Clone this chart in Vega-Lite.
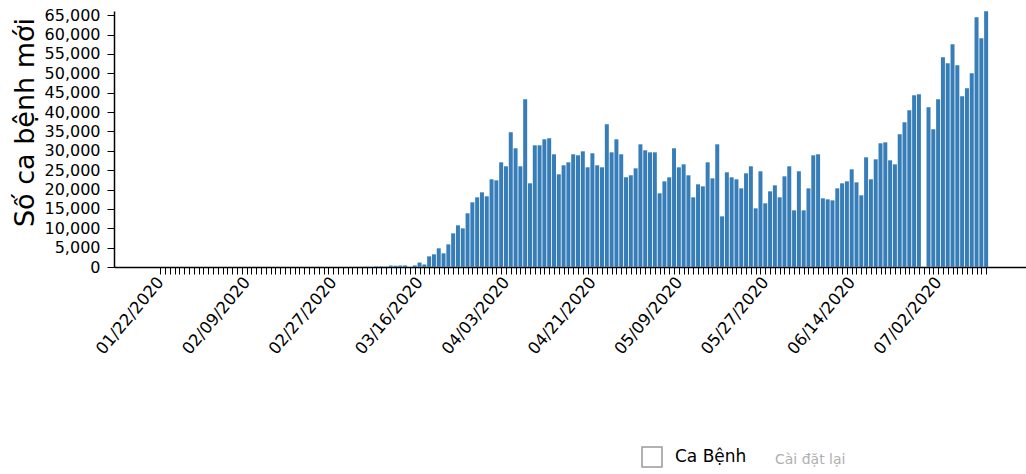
{
  "$schema": "https://vega.github.io/schema/vega-lite/v6.json",
  "width": 912,
  "height": 256,
  "autosize": {"type": "none"},
  "padding": {"left": 114, "top": 11, "right": 0, "bottom": 207},
  "background": "white",
  "config": {"view": {"stroke": null}, "font": "DejaVu Sans"},
  "data": {"values": [
    {"date":"2020-01-22","cases":1},{"date":"2020-01-23","cases":0},{"date":"2020-01-24","cases":1},{"date":"2020-01-25","cases":0},
    {"date":"2020-01-26","cases":3},{"date":"2020-01-27","cases":0},{"date":"2020-01-28","cases":0},{"date":"2020-01-29","cases":0},
    {"date":"2020-01-30","cases":0},{"date":"2020-01-31","cases":2},{"date":"2020-02-01","cases":1},{"date":"2020-02-02","cases":3},
    {"date":"2020-02-03","cases":0},{"date":"2020-02-04","cases":0},{"date":"2020-02-05","cases":1},{"date":"2020-02-06","cases":0},
    {"date":"2020-02-07","cases":0},{"date":"2020-02-08","cases":0},{"date":"2020-02-09","cases":0},{"date":"2020-02-10","cases":0},
    {"date":"2020-02-11","cases":1},{"date":"2020-02-12","cases":0},{"date":"2020-02-13","cases":1},{"date":"2020-02-14","cases":0},
    {"date":"2020-02-15","cases":0},{"date":"2020-02-16","cases":0},{"date":"2020-02-17","cases":0},{"date":"2020-02-18","cases":0},
    {"date":"2020-02-19","cases":0},{"date":"2020-02-20","cases":0},{"date":"2020-02-21","cases":2},{"date":"2020-02-22","cases":0},
    {"date":"2020-02-23","cases":0},{"date":"2020-02-24","cases":36},{"date":"2020-02-25","cases":0},{"date":"2020-02-26","cases":6},
    {"date":"2020-02-27","cases":1},{"date":"2020-02-28","cases":3},{"date":"2020-02-29","cases":8},{"date":"2020-03-01","cases":7},
    {"date":"2020-03-02","cases":23},{"date":"2020-03-03","cases":20},{"date":"2020-03-04","cases":31},{"date":"2020-03-05","cases":68},
    {"date":"2020-03-06","cases":45},{"date":"2020-03-07","cases":140},{"date":"2020-03-08","cases":116},{"date":"2020-03-09","cases":65},
    {"date":"2020-03-10","cases":376},{"date":"2020-03-11","cases":322},{"date":"2020-03-12","cases":382},{"date":"2020-03-13","cases":400},
    {"date":"2020-03-14","cases":0},{"date":"2020-03-15","cases":400},{"date":"2020-03-16","cases":1150},{"date":"2020-03-17","cases":650},
    {"date":"2020-03-18","cases":2750},{"date":"2020-03-19","cases":3270},{"date":"2020-03-20","cases":4820},{"date":"2020-03-21","cases":3530},
    {"date":"2020-03-22","cases":5850},{"date":"2020-03-23","cases":8690},{"date":"2020-03-24","cases":10760},{"date":"2020-03-25","cases":9980},
    {"date":"2020-03-26","cases":13860},{"date":"2020-03-27","cases":16700},{"date":"2020-03-28","cases":17990},{"date":"2020-03-29","cases":19280},
    {"date":"2020-03-30","cases":18250},{"date":"2020-03-31","cases":22640},{"date":"2020-04-01","cases":22380},{"date":"2020-04-02","cases":27030},
    {"date":"2020-04-03","cases":26000},{"date":"2020-04-04","cases":34780},{"date":"2020-04-05","cases":30650},{"date":"2020-04-06","cases":26000},
    {"date":"2020-04-07","cases":43300},{"date":"2020-04-08","cases":21610},{"date":"2020-04-09","cases":31420},{"date":"2020-04-10","cases":31420},
    {"date":"2020-04-11","cases":32970},{"date":"2020-04-12","cases":33230},{"date":"2020-04-13","cases":29100},{"date":"2020-04-14","cases":23930},
    {"date":"2020-04-15","cases":26260},{"date":"2020-04-16","cases":27030},{"date":"2020-04-17","cases":29100},{"date":"2020-04-18","cases":28840},
    {"date":"2020-04-19","cases":29870},{"date":"2020-04-20","cases":25740},{"date":"2020-04-21","cases":29360},{"date":"2020-04-22","cases":26260},
    {"date":"2020-04-23","cases":25740},{"date":"2020-04-24","cases":36840},{"date":"2020-04-25","cases":29610},{"date":"2020-04-26","cases":32970},
    {"date":"2020-04-27","cases":29100},{"date":"2020-04-28","cases":23160},{"date":"2020-04-29","cases":23680},{"date":"2020-04-30","cases":25480},
    {"date":"2020-05-01","cases":31680},{"date":"2020-05-02","cases":30130},{"date":"2020-05-03","cases":29610},{"date":"2020-05-04","cases":29610},
    {"date":"2020-05-05","cases":19020},{"date":"2020-05-06","cases":22120},{"date":"2020-05-07","cases":23160},{"date":"2020-05-08","cases":30650},
    {"date":"2020-05-09","cases":25740},{"date":"2020-05-10","cases":26510},{"date":"2020-05-11","cases":23680},{"date":"2020-05-12","cases":17990},
    {"date":"2020-05-13","cases":21350},{"date":"2020-05-14","cases":20830},{"date":"2020-05-15","cases":27030},{"date":"2020-05-16","cases":22890},
    {"date":"2020-05-17","cases":31680},{"date":"2020-05-18","cases":13080},{"date":"2020-05-19","cases":24450},{"date":"2020-05-20","cases":23160},
    {"date":"2020-05-21","cases":22640},{"date":"2020-05-22","cases":20310},{"date":"2020-05-23","cases":24190},{"date":"2020-05-24","cases":26000},
    {"date":"2020-05-25","cases":15150},{"date":"2020-05-26","cases":24710},{"date":"2020-05-27","cases":16440},{"date":"2020-05-28","cases":19540},
    {"date":"2020-05-29","cases":21090},{"date":"2020-05-30","cases":17990},{"date":"2020-05-31","cases":23410},{"date":"2020-06-01","cases":26000},
    {"date":"2020-06-02","cases":14630},{"date":"2020-06-03","cases":24710},{"date":"2020-06-04","cases":14630},{"date":"2020-06-05","cases":20310},
    {"date":"2020-06-06","cases":28840},{"date":"2020-06-07","cases":29100},{"date":"2020-06-08","cases":17730},{"date":"2020-06-09","cases":17470},
    {"date":"2020-06-10","cases":17210},{"date":"2020-06-11","cases":20310},{"date":"2020-06-12","cases":21610},{"date":"2020-06-13","cases":22120},
    {"date":"2020-06-14","cases":25220},{"date":"2020-06-15","cases":21860},{"date":"2020-06-16","cases":18510},{"date":"2020-06-17","cases":28320},
    {"date":"2020-06-18","cases":22640},{"date":"2020-06-19","cases":27800},{"date":"2020-06-20","cases":31940},{"date":"2020-06-21","cases":32190},
    {"date":"2020-06-22","cases":27550},{"date":"2020-06-23","cases":26510},{"date":"2020-06-24","cases":34260},{"date":"2020-06-25","cases":37360},
    {"date":"2020-06-26","cases":40450},{"date":"2020-06-27","cases":44330},{"date":"2020-06-28","cases":44590},{"date":"2020-06-29","cases":0},
    {"date":"2020-06-30","cases":41230},{"date":"2020-07-01","cases":35550},{"date":"2020-07-02","cases":43300},{"date":"2020-07-03","cases":54140},
    {"date":"2020-07-04","cases":52590},{"date":"2020-07-05","cases":57500},{"date":"2020-07-06","cases":52070},{"date":"2020-07-07","cases":44070},
    {"date":"2020-07-08","cases":46140},{"date":"2020-07-09","cases":50010},{"date":"2020-07-10","cases":64470},{"date":"2020-07-11","cases":59050},
    {"date":"2020-07-12","cases":66020}
  ]},
  "layer": [
    {
      "mark": {"type": "bar", "size": 4, "color": "#377eb8"},
      "encoding": {
        "x": {
          "field": "date",
          "type": "temporal",
          "scale": {
            "type": "utc",
            "domain": [
              {"year": 2020, "month": 1, "date": 13, "hours": 9, "minutes": 50, "utc": true},
              {"year": 2020, "month": 7, "date": 19, "hours": 6, "minutes": 14, "utc": true}
            ]
          },
          "axis": {
            "title": null,
            "grid": false,
            "tickCount": {"interval": "day", "step": 1},
            "domainColor": "#000000",
            "domainWidth": 1.5,
            "tickColor": "#000000",
            "tickSize": 7,
            "tickWidth": 1,
            "tickOpacity": {"condition": {"test": "datum.value >= utc(2020,0,22) && datum.value <= utc(2020,6,12)", "value": 1}, "value": 0},
            "labelExpr": "(datum.value >= utc(2020,0,22) && datum.value <= utc(2020,6,12) && round((datum.value - utc(2020,0,22)) / 864e5) % 18 == 0) ? utcFormat(datum.value, '%m/%d/%Y') : ''",
            "labelAngle": -50,
            "labelAlign": "right",
            "labelBaseline": "middle",
            "labelPadding": 5,
            "labelFontSize": 16.5,
            "labelColor": "#000000",
            "labelOverlap": false,
            "labelFlush": false,
            "labelBound": false
          }
        },
        "y": {
          "field": "cases",
          "type": "quantitative",
          "scale": {"domain": [0, 66100], "nice": false},
          "axis": {
            "title": "Số ca bệnh mới",
            "titleFontSize": 27,
            "titleFontWeight": "normal",
            "titleColor": "#000000",
            "titlePadding": 5,
            "titleY": 111,
            "grid": false,
            "values": [0, 5000, 10000, 15000, 20000, 25000, 30000, 35000, 40000, 45000, 50000, 55000, 60000, 65000],
            "format": ",d",
            "domainColor": "#000000",
            "domainWidth": 1.5,
            "tickColor": "#000000",
            "tickSize": 7,
            "labelPadding": 7,
            "labelFontSize": 16,
            "labelColor": "#000000"
          }
        }
      }
    },
    {
      "mark": {"type": "point", "shape": "square", "filled": false, "opacity": 0},
      "encoding": {
        "stroke": {
          "datum": "Ca Bệnh",
          "scale": {"domain": ["Ca Bệnh"], "range": ["#999999"]},
          "legend": {
            "title": null,
            "orient": "none",
            "legendX": 527,
            "legendY": 435,
            "padding": 0,
            "symbolType": "square",
            "symbolSize": 400,
            "symbolStrokeWidth": 1.5,
            "symbolOpacity": 1,
            "symbolFillColor": "#ffffff",
            "labelFontSize": 17,
            "labelColor": "#000000",
            "labelOffset": 12,
            "labelLimit": 0
          }
        },
        "shape": {
          "datum": "Cài đặt lại",
          "scale": {"domain": ["Cài đặt lại"], "range": ["square"]},
          "legend": {
            "title": null,
            "orient": "none",
            "legendX": 647,
            "legendY": 442,
            "padding": 0,
            "symbolSize": 4,
            "symbolOpacity": 0,
            "labelFontSize": 14,
            "labelColor": "#b0b0b0",
            "labelOffset": 0,
            "labelLimit": 0
          }
        }
      }
    }
  ]
}
